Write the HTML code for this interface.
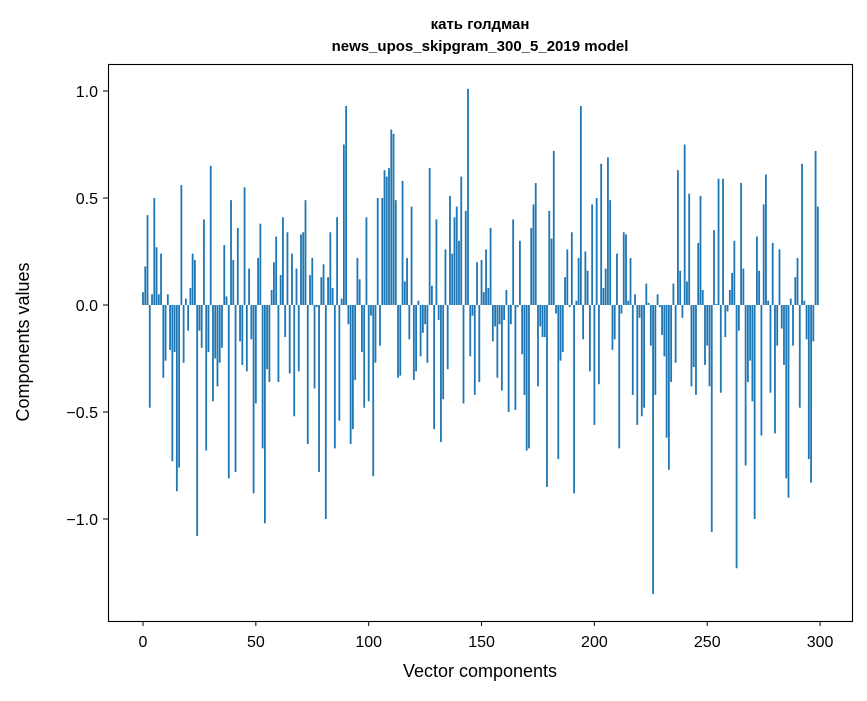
<!DOCTYPE html>
<html><head><meta charset="utf-8"><style>
body{margin:0;background:#fff;}
svg text{font-family:"Liberation Sans","DejaVu Sans",sans-serif;}
</style></head><body>
<svg id="chart" width="867" height="696" xmlns="http://www.w3.org/2000/svg">
<rect x="0" y="0" width="867" height="696" fill="#fff"/>
<text x="480" y="29" text-anchor="middle" font-size="15" font-weight="bold">кать голдман</text>
<text x="480" y="51" text-anchor="middle" font-size="15" font-weight="bold">news_upos_skipgram_300_5_2019 model</text>
<g id="bars"></g>
<g id="axes"></g>
<rect x="108.5" y="64.5" width="744" height="557" fill="none" stroke="#000" stroke-width="1.1"/>
<text x="480" y="677" text-anchor="middle" font-size="18">Vector components</text>
<text transform="translate(29,342) rotate(-90)" text-anchor="middle" font-size="18">Components values</text>
</svg>
<script>
const values = [
0.06,0.18,0.42,-0.48,0.05,0.50,0.27,0.05,0.24,-0.34,
-0.26,0.05,-0.21,-0.73,-0.22,-0.87,-0.76,0.56,-0.27,0.03,
-0.12,0.08,0.24,0.21,-1.08,-0.12,-0.20,0.40,-0.68,-0.22,
0.65,-0.45,-0.25,-0.38,-0.27,-0.20,0.28,0.04,-0.81,0.49,
0.21,-0.78,0.36,-0.17,-0.28,0.55,-0.31,0.17,-0.16,-0.88,
-0.46,0.22,0.38,-0.67,-1.02,-0.30,-0.36,0.07,0.20,0.32,
-0.36,0.14,0.41,-0.15,0.34,-0.32,0.24,-0.52,0.17,-0.31,
0.33,0.34,0.49,-0.65,0.14,0.22,-0.39,-0.01,-0.78,0.13,
0.19,-1.00,0.13,0.34,0.08,-0.67,0.41,-0.54,0.03,0.75,
0.93,-0.09,-0.65,-0.58,-0.35,0.22,0.12,-0.22,-0.48,0.41,
-0.45,-0.05,-0.80,-0.27,0.50,-0.19,0.50,0.63,0.60,0.64,
0.82,0.80,0.49,-0.34,-0.33,0.58,0.11,0.22,-0.16,0.46,
-0.35,-0.31,0.02,-0.24,-0.13,-0.09,-0.27,0.64,0.09,-0.58,
0.40,-0.07,-0.64,-0.44,0.26,-0.30,0.51,0.24,0.41,0.46,
0.30,0.60,-0.46,0.44,1.01,-0.24,-0.05,-0.42,0.20,-0.36,
0.21,0.06,0.26,0.08,0.36,-0.17,-0.10,-0.34,-0.09,-0.40,
-0.07,0.07,-0.50,-0.09,0.40,-0.49,-0.01,0.30,-0.23,-0.42,
-0.68,-0.67,0.36,0.47,0.57,-0.38,-0.10,-0.15,-0.15,-0.85,
0.44,0.31,0.72,-0.04,-0.72,-0.26,-0.22,0.13,0.26,-0.01,
0.34,-0.88,0.02,0.22,0.93,-0.16,0.25,0.16,-0.31,0.47,
-0.56,0.50,-0.37,0.66,0.08,0.17,0.69,0.49,-0.21,-0.16,
0.24,-0.67,-0.04,0.34,0.33,0.02,0.22,-0.42,0.05,-0.56,
-0.06,-0.52,-0.48,0.10,0.01,-0.19,-1.35,-0.42,0.05,-0.01,
-0.14,-0.24,-0.62,-0.77,-0.36,0.10,-0.27,0.63,0.16,-0.06,
0.75,0.11,0.52,-0.38,-0.29,-0.42,0.29,0.51,0.07,-0.28,
-0.19,-0.38,-1.06,0.35,0.005,0.59,-0.41,0.59,-0.15,-0.03,
0.07,0.15,0.30,-1.23,-0.12,0.57,0.17,-0.75,-0.36,-0.26,
-0.45,-1.00,0.32,0.16,-0.61,0.47,0.61,0.02,-0.41,0.29,
-0.60,-0.19,0.26,-0.11,-0.28,-0.81,-0.90,0.03,-0.19,0.13,
0.22,-0.48,0.66,0.02,-0.16,-0.72,-0.83,-0.17,0.72,0.46
];
const xTicks = [0,50,100,150,200,250,300];
const yTicks = [-1.0,-0.5,0.0,0.5,1.0];
const yTickLabels = ["\u22121.0","\u22120.5","0.0","0.5","1.0"];

const NS = "http://www.w3.org/2000/svg";
function xScale(i){ return 143 + 2.257*i; }
function yScale(v){ return 305 - 214*v; }
const bars = document.getElementById('bars');
values.forEach((v,i)=>{
  const r = document.createElementNS(NS,'rect');
  
  
  const w = 2.257*0.8;
  const y0 = yScale(0), y1 = yScale(v);
  r.setAttribute('x', xScale(i)-w/2);
  r.setAttribute('y', Math.min(y0,y1));
  r.setAttribute('width', w);
  r.setAttribute('height', Math.abs(y1-y0));
  r.setAttribute('fill', '#1f77b4');
  bars.appendChild(r);
});
const axes = document.getElementById('axes');
xTicks.forEach(t=>{
  const x = xScale(t);
  const l = document.createElementNS(NS,'line');
  
  
  l.setAttribute('x1',x);l.setAttribute('x2',x);l.setAttribute('y1',621);l.setAttribute('y2',626);
  l.setAttribute('stroke','#000');
  axes.appendChild(l);
  const tx = document.createElementNS(NS,'text');
  
  
  tx.setAttribute('x',x);tx.setAttribute('y',647);
  tx.setAttribute('text-anchor','middle');tx.setAttribute('font-size','16');
  tx.textContent = t;
  axes.appendChild(tx);
});
yTicks.forEach((t,k)=>{
  const y = yScale(t);
  const l = document.createElementNS(NS,'line');
  
  
  l.setAttribute('x1',103);l.setAttribute('x2',108);l.setAttribute('y1',y);l.setAttribute('y2',y);
  l.setAttribute('stroke','#000');
  axes.appendChild(l);
  const tx = document.createElementNS(NS,'text');
  
  
  tx.setAttribute('x',98);tx.setAttribute('y',y+6);
  tx.setAttribute('text-anchor','end');tx.setAttribute('font-size','16');
  tx.textContent = yTickLabels[k];
  axes.appendChild(tx);
});
</script>
</body></html>
